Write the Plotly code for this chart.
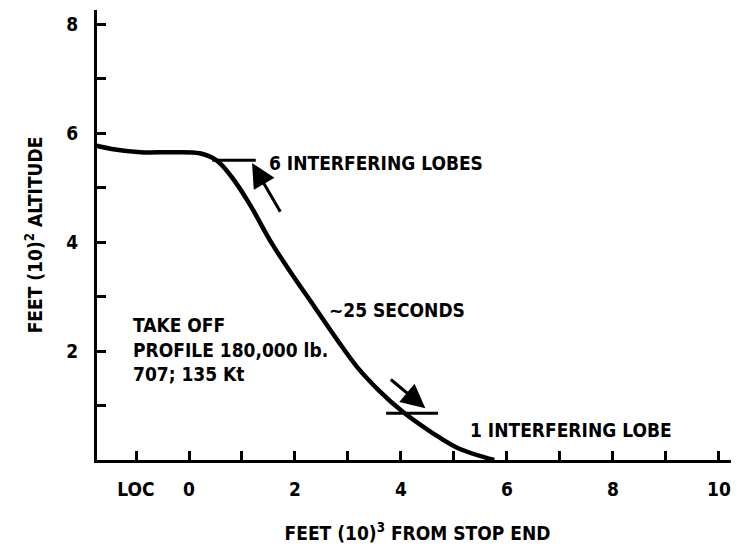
import plotly.graph_objects as go

# Take-off profile (distance in thousands of feet, altitude in hundreds of feet)
profile_x = [-1.80, -1.46, -0.91, -0.35, 0.20, 0.52, 0.81, 1.13, 1.56, 1.93, 2.37, 2.80, 3.17, 3.59, 4.04, 4.59, 5.07, 5.76]
profile_y = [5.78, 5.71, 5.65, 5.65, 5.63, 5.50, 5.19, 4.72, 3.98, 3.43, 2.81, 2.20, 1.71, 1.27, 0.88, 0.50, 0.22, 0.0]

x_tickvals = [-1, 0, 1, 2, 3, 4, 5, 6, 7, 8, 9, 10]
x_ticktext = ["LOC", "0", "", "2", "", "4", "", "6", "", "8", "", "10"]
y_tickvals = [1, 2, 3, 4, 5, 6, 7, 8]
y_ticktext = ["", "2", "", "4", "", "6", "", "8"]

# lobe markers: (x0, x1, y)
lobe_marks = [(0.44, 1.26, 5.50), (3.72, 4.70, 0.86)]
# arrows: (tail_x, tail_y, tip_x, tip_y)
arrows = [(1.74, 4.53, 1.19, 5.45), (3.78, 1.50, 4.46, 0.95)]
labels = [
    (1.48, 5.45, "6 INTERFERING LOBES"),
    (2.60, 2.75, "~25 SECONDS"),
    (5.26, 0.55, "1 INTERFERING LOBE"),
    (-1.10, 2.02, "TAKE OFF<br>PROFILE 180,000 lb.<br>707; 135 Kt"),
]

FONT = "Liberation Sans Narrow, DejaVu Sans Condensed, Arial Narrow, sans-serif"

fig = go.Figure()
fig.add_trace(go.Scatter(x=profile_x, y=profile_y, mode="lines",
                         line=dict(color="black", width=4.5, shape="spline", smoothing=1.0),
                         cliponaxis=False, hoverinfo="skip", showlegend=False))

for x0, x1, yv in lobe_marks:
    fig.add_shape(type="line", x0=x0, x1=x1, y0=yv, y1=yv, xref="x", yref="y",
                  line=dict(color="black", width=3))

for tx, ty, hx, hy in arrows:
    fig.add_annotation(x=hx, y=hy, ax=tx, ay=ty, xref="x", yref="y", axref="x", ayref="y",
                       text="", showarrow=True, arrowhead=2, arrowsize=1.6, arrowwidth=3,
                       arrowcolor="black")

for lx, ly, txt in labels:
    fig.add_annotation(x=lx, y=ly, xref="x", yref="y", text=txt, showarrow=False,
                       xanchor="left", yanchor="middle", align="left",
                       font=dict(family=FONT, size=19, color="black", weight="bold"))

axis_common = dict(showline=True, linecolor="black", linewidth=3, ticks="inside",
                   ticklen=9, tickwidth=3, tickcolor="black", showgrid=False, zeroline=False,
                   automargin=False,
                   tickfont=dict(family=FONT, size=19, color="black", weight="bold"),
                   title_font=dict(family=FONT, size=19, color="black", weight="bold"))

fig.update_xaxes(range=[-1.736, 10.36], tickmode="array", tickvals=x_tickvals, ticktext=x_ticktext,
                 ticklabelstandoff=10, ticklabeloverflow="allow",
                 title_text="FEET (10)<sup>3</sup> FROM STOP END",
                 title_standoff=28, **axis_common)
fig.update_yaxes(range=[0, 8.26], tickmode="array", tickvals=y_tickvals, ticktext=y_ticktext,
                 ticklabelstandoff=12, title_text="FEET (10)<sup>2</sup> ALTITUDE",
                 title_standoff=19, **axis_common)

fig.update_layout(width=739, height=550, margin=dict(l=89, r=9, t=2, b=98),
                  plot_bgcolor="white", paper_bgcolor="white")

fig.write_html("out.html")
